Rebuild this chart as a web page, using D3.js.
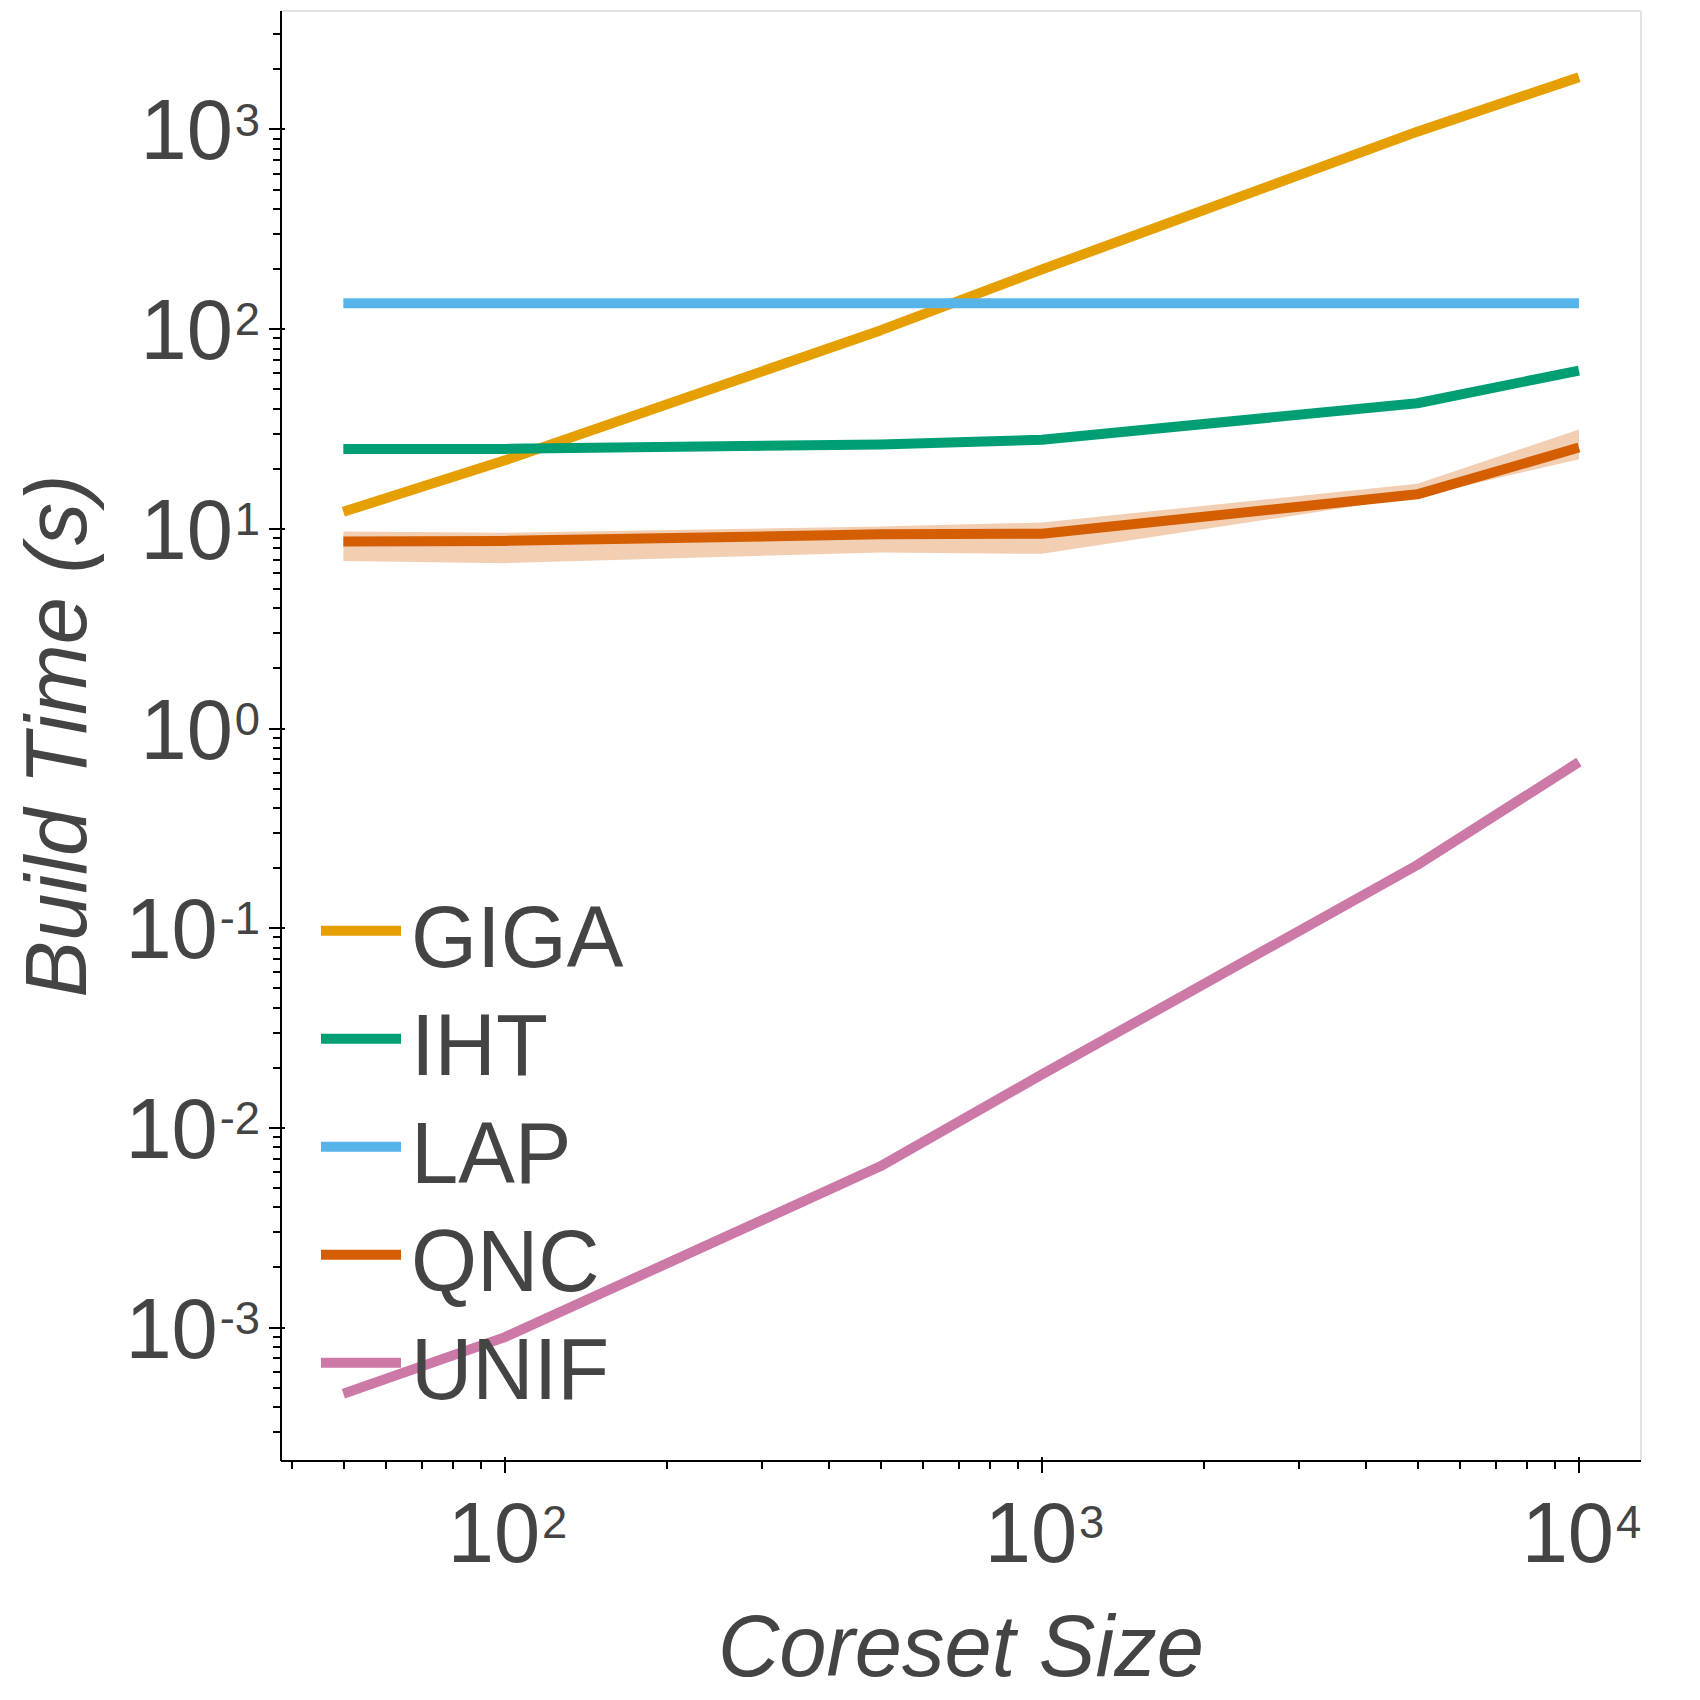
<html>
<head>
<meta charset="UTF-8"/>
<script src="https://d3js.org/d3.v7.min.js"></script>
<title>build time vs coreset size</title>
<style>
body { margin: 0; background: #fff; }
text { font-family: "Liberation Sans", Arial, Helvetica, sans-serif; fill: #444; }
.axis path, .axis line { stroke: #000; stroke-width: 2; shape-rendering: crispEdges; }
.frame { stroke: #e3e3e3; stroke-width: 2; }
.series { fill: none; stroke-width: 10; stroke-linejoin: round; stroke-linecap: butt; }
</style>
</head>
<body>
<svg id='big' width=1700 height=1700></svg>

<script>
'use strict';

// coreset sizes (x) and build times in seconds (y)
var sizes = [50, 100, 500, 1000, 5000, 10000];
var methods = ['GIGA', 'IHT', 'LAP', 'QNC', 'UNIF'];
var colors = ['#E69F00', '#009E73', '#56B4E9', '#D55E00', '#CC79A7'];

var giga = [12.1, 21.9, 98, 198, 970, 1815];
var iht  = [25.0, 25.0, 26.3, 27.8, 42.3, 61.7];
var lap  = [134, 134, 134, 134, 134, 134];
var qnc  = [8.6, 8.65, 9.33, 9.4, 14.8, 25.4];
var unif = [4.63e-4, 8.9e-4, 6.38e-3, 0.0184, 0.206, 0.675];

// spread of the QNC runs
var qncLo = [6.87, 6.69, 7.57, 7.45, 14.4, 22.2];
var qncHi = [9.65, 9.5, 10.2, 10.7, 16.7, 31.3];

var xMajor = [100, 1000, 10000];
var yMajor = [1e-3, 1e-2, 1e-1, 1, 10, 100, 1000];

var xTitle = 'Coreset Size';
var yTitle = 'Build Time (s)';

var series = [giga, iht, lap, qnc, unif];

var svg = d3.select('#big');
var pLeft = 281, pRight = 1641, pTop = 11, pBottom = 1461;
var squeeze = 'scale(0.965,1)';

var sx = d3.scaleLog().domain([38.27, 13049]).range([pLeft, pRight]);
var sy = d3.scaleLog().domain([2.133e-4, 3899]).range([pBottom, pTop]);

function minors(scale){
	var d = scale.domain(), out = [];
	var e0 = Math.floor(Math.log10(d[0])), e1 = Math.ceil(Math.log10(d[1]));
	for (var e = e0; e <= e1; e++)
		for (var m = 2; m <= 9; m++){
			var v = m * Math.pow(10, e);
			if (v >= d[0] && v <= d[1]) out.push(v);
		}
	return out;
}

function expLabel(sel){
	sel.each(function(d){
		var t = d3.select(this).text(null);
		t.append('tspan').text('10');
		t.append('tspan')
		.attr('dy', -24)
		.attr('dx', 2)
		.attr('font-size', 47)
		.text(Math.round(Math.log10(d)));
	});
}

// frame on top and right
svg.append('line').attr('class', 'frame')
.attr('x1', pLeft).attr('x2', pRight).attr('y1', pTop).attr('y2', pTop);
svg.append('line').attr('class', 'frame')
.attr('x1', pRight).attr('x2', pRight).attr('y1', pTop).attr('y2', pBottom);

// minor ticks
svg.append('g').attr('class', 'axis')
.attr('transform', 'translate(' + pLeft + ',0)')
.call(d3.axisLeft(sy).tickValues(minors(sy)).tickSize(8).tickFormat(''))
.select('.domain').remove();

svg.append('g').attr('class', 'axis')
.attr('transform', 'translate(0,' + pBottom + ')')
.call(d3.axisBottom(sx).tickValues(minors(sx)).tickSize(8).tickFormat(''))
.select('.domain').remove();

// major ticks + labels
var yAxis = svg.append('g').attr('class', 'axis')
.attr('transform', 'translate(' + pLeft + ',0)')
.call(d3.axisLeft(sy).tickValues(yMajor).tickSize(12).tickSizeOuter(0).tickPadding(9));
yAxis.selectAll('.tick line').attr('x1', 4);
yAxis.selectAll('.tick text')
.attr('font-size', 86)
.attr('dy', null)
.attr('x', null)
.attr('transform', 'translate(-21,30) ' + squeeze)
.call(expLabel);

var xAxis = svg.append('g').attr('class', 'axis')
.attr('transform', 'translate(0,' + pBottom + ')')
.call(d3.axisBottom(sx).tickValues(xMajor).tickSize(12).tickSizeOuter(0));
xAxis.selectAll('.tick line').attr('y1', -4);
xAxis.selectAll('.tick text')
.attr('font-size', 86)
.attr('dy', null)
.attr('y', null)
.attr('transform', 'translate(2,101) ' + squeeze)
.call(expLabel);

xAxis.select('.domain').attr('d', 'M' + pLeft + ',0H' + pRight);
yAxis.select('.domain').attr('d', 'M0,' + pTop + 'V' + pBottom);

// titles
svg.append('text')
.attr('transform', 'translate(' + ((pLeft + pRight) / 2) + ',1676) ' + squeeze)
.attr('text-anchor', 'middle')
.attr('font-size', 88)
.attr('font-style', 'italic')
.text(xTitle);

svg.append('text')
.attr('transform', 'translate(86,' + ((pTop + pBottom) / 2) + ') rotate(-90) ' + squeeze)
.attr('text-anchor', 'middle')
.attr('font-size', 88)
.attr('font-style', 'italic')
.text(yTitle);

// lines
var line = d3.line()
.x(function(d, i){ return sx(sizes[i]); })
.y(function(d){ return sy(d); });

var band = d3.area()
.x(function(d, i){ return sx(sizes[i]); })
.y0(function(d, i){ return sy(qncLo[i]); })
.y1(function(d, i){ return sy(qncHi[i]); });

series.forEach(function(vals, k){
	if (methods[k] === 'QNC'){
		svg.append('path')
		.datum(qnc)
		.attr('d', band)
		.attr('fill', colors[k])
		.attr('fill-opacity', 0.3);
	}
	svg.append('path')
	.datum(vals)
	.attr('class', 'series')
	.attr('stroke', colors[k])
	.attr('d', line);
});

// legend
var legend = svg.selectAll('.legend')
.data(methods)
.enter()
.append('g')
.attr('class', 'legend')
.attr('transform', function(d, i){ return 'translate(321,' + (930.7 + i * 108) + ')'; });

legend.append('line')
.attr('x1', 0).attr('x2', 80)
.attr('stroke-width', 10)
.attr('stroke', function(d, i){ return colors[i]; });

legend.append('text')
.attr('transform', 'translate(90,36.5) ' + squeeze)
.attr('font-size', 88)
.text(function(d){ return d; });
</script>
</body>
</html>
